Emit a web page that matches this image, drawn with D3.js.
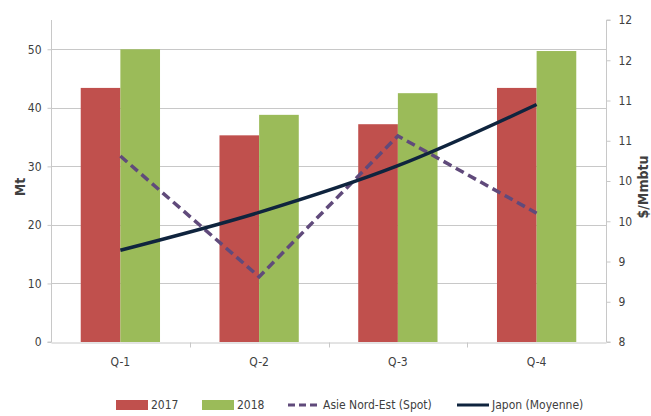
<!DOCTYPE html>
<html>
<head>
<meta charset="utf-8">
<script src="https://cdn.jsdelivr.net/npm/d3@7"></script>
<style>
  body { margin: 0; background: #fff; }
  text { font-family: "DejaVu Sans", sans-serif; font-stretch: condensed; fill: #404040; }
</style>
</head>
<body>
<div id="chart"></div>
<script>
// Data
const quarters = ['Q-1', 'Q-2', 'Q-3', 'Q-4'];
const volumes2017 = [43.4, 35.3, 37.2, 43.4];
const volumes2018 = [50.0, 38.8, 42.5, 49.7];
const spotAsia = [10.31, 8.81, 10.56, 9.60];
const japanAvg = [9.14, 9.61, 10.19, 10.95];
const leftTicks = [0, 10, 20, 30, 40, 50];
const rightTicks = [8, 8.5, 9, 9.5, 10, 10.5, 11, 11.5, 12];
const rightTickLabels = ['8', '9', '9', '10', '10', '11', '11', '12', '12'];

const W = 651, H = 416;
const PLOT = { LEFT: 51, RIGHT: 606, TOP: 20, BOTTOM: 342 };

const COLORS = { y2017: '#C0504D', y2018: '#9BBB59', spot: '#604A7B', japan: '#0F243E', grid: '#C8C8C8' };

const svg = d3.select('#chart').append('svg')
  .attr('width', W)
  .attr('height', H);

// Scales
const x = d3.scaleBand().domain(quarters).range([PLOT.LEFT, PLOT.RIGHT]);
const xSub = d3.scaleBand().domain(['2017', '2018'])
  .range([0, x.bandwidth()])
  .paddingOuter(0.75);
const yLeft = d3.scaleLinear().domain([0, 55]).range([PLOT.BOTTOM, PLOT.TOP]);
const yRight = d3.scaleLinear().domain([8, 12]).range([PLOT.BOTTOM, PLOT.TOP]);

// Gridlines
svg.append('g')
  .selectAll('line')
  .data(leftTicks.filter(d => d > 0))
  .enter()
  .append('line')
  .attr('x1', PLOT.LEFT)
  .attr('x2', PLOT.RIGHT)
  .attr('y1', d => Math.round(yLeft(d)) + 0.5)
  .attr('y2', d => Math.round(yLeft(d)) + 0.5)
  .attr('stroke', COLORS.grid)
  .attr('stroke-width', 1);

// Bars
const rows = quarters.map((q, i) => ({ q: q, v2017: volumes2017[i], v2018: volumes2018[i] }));
const barGroups = svg.append('g')
  .selectAll('g')
  .data(rows)
  .enter()
  .append('g')
  .attr('transform', d => `translate(${x(d.q)},0)`);

barGroups.append('rect')
  .attr('x', xSub('2017'))
  .attr('width', xSub.bandwidth())
  .attr('y', d => yLeft(d.v2017))
  .attr('height', d => yLeft(0) - yLeft(d.v2017))
  .attr('fill', COLORS.y2017);

barGroups.append('rect')
  .attr('x', xSub('2018'))
  .attr('width', xSub.bandwidth())
  .attr('y', d => yLeft(d.v2018))
  .attr('height', d => yLeft(0) - yLeft(d.v2018))
  .attr('fill', COLORS.y2018);

// Axes
const leftAxis = d3.axisLeft(yLeft).tickValues(leftTicks).tickSize(4).tickPadding(6);
const gLeft = svg.append('g')
  .attr('transform', `translate(${PLOT.LEFT + 0.5},0)`)
  .call(leftAxis);

const rightAxis = d3.axisRight(yRight)
  .tickValues(rightTicks)
  .tickFormat((d, i) => rightTickLabels[i])
  .tickSize(4)
  .tickPadding(8);
const gRight = svg.append('g')
  .attr('transform', `translate(${PLOT.RIGHT + 0.5},0)`)
  .call(rightAxis);

const bottomAxis = d3.axisBottom(x).tickSize(0).tickPadding(15);
const gBottom = svg.append('g')
  .attr('transform', `translate(0,${PLOT.BOTTOM + 0.5})`)
  .call(bottomAxis);

// Category separator ticks on the x axis
gBottom.append('g')
  .selectAll('line')
  .data(quarters.slice(1))
  .enter()
  .append('line')
  .attr('x1', d => Math.round(x(d)) + 0.5)
  .attr('x2', d => Math.round(x(d)) + 0.5)
  .attr('y1', 0)
  .attr('y2', 5)
  .attr('stroke', COLORS.grid);

[gLeft, gRight, gBottom].forEach(function(g) {
  g.select('.domain').attr('stroke', COLORS.grid).attr('stroke-width', 1);
  g.selectAll('.tick line').attr('stroke', COLORS.grid);
  g.selectAll('.tick text')
    .style('font-family', '"DejaVu Sans", sans-serif')
    .style('font-stretch', 'condensed')
    .style('font-size', '12px')
    .attr('fill', '#404040');
});
gRight.select('.domain').attr('d', `M4,${PLOT.TOP}H0V${PLOT.BOTTOM}H4`);
gLeft.select('.domain').attr('d', `M0,${PLOT.TOP}V${PLOT.BOTTOM}H-4`);

// Lines
const spotLine = d3.line()
  .x((d, i) => x(quarters[i]) + x.bandwidth() / 2)
  .y(d => yRight(d));

svg.append('path')
  .datum(spotAsia)
  .attr('fill', 'none')
  .attr('stroke', COLORS.spot)
  .attr('stroke-width', 3.5)
  .attr('stroke-dasharray', '9,5')
  .attr('d', spotLine);

const japanLine = d3.line()
  .x((d, i) => x(quarters[i]) + x.bandwidth() / 2)
  .y(d => yRight(d))
  .curve(d3.curveCatmullRom.alpha(0.5));

svg.append('path')
  .datum(japanAvg)
  .attr('fill', 'none')
  .attr('stroke', COLORS.japan)
  .attr('stroke-width', 3.5)
  .attr('d', japanLine);

// Axis titles
svg.append('text')
  .attr('transform', `translate(25,${(PLOT.TOP + PLOT.BOTTOM) / 2 + 6}) rotate(-90)`)
  .attr('text-anchor', 'middle')
  .style('font-size', '14px')
  .style('font-weight', 'bold')
  .text('Mt');

svg.append('text')
  .attr('transform', `translate(648,${(PLOT.TOP + PLOT.BOTTOM) / 2 + 6}) rotate(-90)`)
  .attr('text-anchor', 'middle')
  .style('font-size', '14px')
  .style('font-weight', 'bold')
  .text('$/Mmbtu');

// Legend
const legendY = 405;
const legendItems = [
  { label: '2017', type: 'rect', color: COLORS.y2017, x: 116 },
  { label: '2018', type: 'rect', color: COLORS.y2018, x: 202 },
  { label: 'Asie Nord-Est (Spot)', type: 'dash', color: COLORS.spot, x: 288 },
  { label: 'Japon (Moyenne)', type: 'line', color: COLORS.japan, x: 457 }
];

legendItems.forEach(function(item) {
  if (item.type === 'rect') {
    svg.append('rect')
      .attr('x', item.x)
      .attr('y', legendY - 5)
      .attr('width', 32)
      .attr('height', 10)
      .attr('fill', item.color);
  } else {
    svg.append('line')
      .attr('x1', item.x)
      .attr('x2', item.x + 32)
      .attr('y1', legendY)
      .attr('y2', legendY)
      .attr('stroke', item.color)
      .attr('stroke-width', 3)
      .attr('stroke-dasharray', item.type === 'dash' ? '7,4' : null);
  }
  svg.append('text')
    .attr('x', item.x + 35)
    .attr('y', legendY)
    .attr('dominant-baseline', 'central')
    .style('font-size', '12px')
    .text(item.label);
});
</script>
</body>
</html>
